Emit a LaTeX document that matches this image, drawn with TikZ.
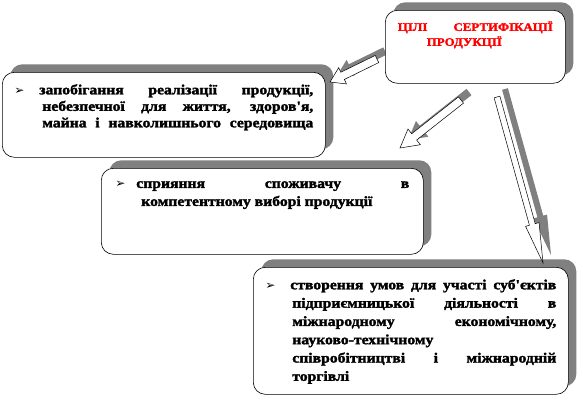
\documentclass[tikz,border=0pt]{standalone}
\usepackage{fontspec}
\setmainfont{Liberation Serif}
\newfontfamily\heavy[UprightFont = * Bold, FakeBold = 2, FakeStretch = 1.12]{Liberation Serif}
\newfontfamily\symfont{DejaVu Sans}
\usetikzlibrary{calc}
\usetikzlibrary{shadows}
\tikzset{box/.style = {draw, fill = white, rounded corners = 12pt, line width = 0.6pt, anchor = north west,
    drop shadow = {shadow xshift = 8pt, shadow yshift = 8pt, fill = gray, opacity = 1}}}
\tikzset{arrbody/.style = {draw, fill = white, line width = 0.5pt}}
\tikzset{arrshadow/.style = {fill = gray}}
\newcommand{\bul}[1]{\makebox[#1][l]{\symfont\fontsize{12}{12}\selectfont ➢}}
\newcommand{\txt}{\heavy\fontsize{14}{17.5}\selectfont}
% block arrow: from, to, half shaft, half head, head length
\newcommand{\blockarrow}[5]{%
  \path let \p1 = ($(#2)-(#1)$) in \pgfextra{%
    \pgfmathsetmacro\arrang{atan2(\y1,\x1)}\global\let\arrang\arrang
    \pgfmathsetmacro\arrlen{veclen(\x1,\y1)}\global\let\arrlen\arrlen};
  \begin{scope}[shift = {(#1)}, xshift = 8pt, yshift = 8pt, rotate = \arrang, x = 1pt, y = 1pt]
    \fill [arrshadow] (0,-#3) -- (\arrlen-#5,-#3) -- (\arrlen-#5,-#4) -- (\arrlen,0)
      -- (\arrlen-#5,#4) -- (\arrlen-#5,#3) -- (0,#3) -- cycle;
  \end{scope}
  \begin{scope}[shift = {(#1)}, rotate = \arrang, x = 1pt, y = 1pt]
    \draw [arrbody] (0,-#3) -- (\arrlen-#5,-#3) -- (\arrlen-#5,-#4) -- (\arrlen,0)
      -- (\arrlen-#5,#4) -- (\arrlen-#5,#3) -- (0,#3) -- cycle;
  \end{scope}}

\begin{document}
\begin{tikzpicture}[x = 1pt, y = -1pt]

    \useasboundingbox (0,0) rectangle (583,402);

    \node [box, inner xsep = 12pt, inner ysep = 12pt] (g1) at (2, 72)
      {\begin{minipage}[t][61pt][t]{299pt}\txt\parfillskip=0pt\baselineskip=16.5pt
        \noindent\hangindent=28pt\hangafter=1\bul{25pt}запобігання реалізації продукції,\linebreak
        небезпечної для життя, здоров'я,\linebreak
        майна і навколишнього середовища\end{minipage}};

    \node [box, inner xsep = 14pt, inner ysep = 13pt] (g2) at (101, 168)
      {\begin{minipage}[t][60pt][t]{294pt}\txt\baselineskip=18pt
        \noindent\hangindent=26pt\hangafter=1\bul{21pt}сприяння споживачу в\linebreak
        компетентному виборі продукції\end{minipage}};

    \node [box, inner xsep = 12pt, inner ysep = 12pt] (g3) at (253, 267)
      {\begin{minipage}[t][103pt][t]{291pt}\txt\baselineskip=18.3pt
        \noindent\hangindent=27pt\hangafter=1\bul{25pt}створення умов для участі суб'єктів\linebreak
        підприємницької діяльності в\linebreak
        міжнародному економічному,\linebreak
        науково-технічному\\
        співробітництві і міжнародній\linebreak
        торгівлі\end{minipage}};

    \coordinate (a1s) at (377, 59);
    \coordinate (a1e) at (330, 82);
    \coordinate (a2s) at (461, 100);
    \coordinate (a2e) at (400, 148);
    \coordinate (a3s) at (497, 97);
    \coordinate (a3e) at (543, 263);

    \blockarrow{a1s}{a1e}{4}{9}{14}
    \blockarrow{a2s}{a2e}{4}{10}{18}
    \blockarrow{a3s}{a3e}{3}{7}{40}

    \node [box, inner xsep = 12.5pt, inner ysep = 11pt] (goals) at (385, 10)
      {\begin{minipage}[t][51pt][t]{155pt}\heavy\fontsize{11.5}{15}\selectfont\color{red}
        \noindent ЦІЛІ СЕРТИФІКАЦІЇ\linebreak
        \hspace*{29pt}ПРОДУКЦІЇ\end{minipage}};
  \end{tikzpicture}
\end{document}
